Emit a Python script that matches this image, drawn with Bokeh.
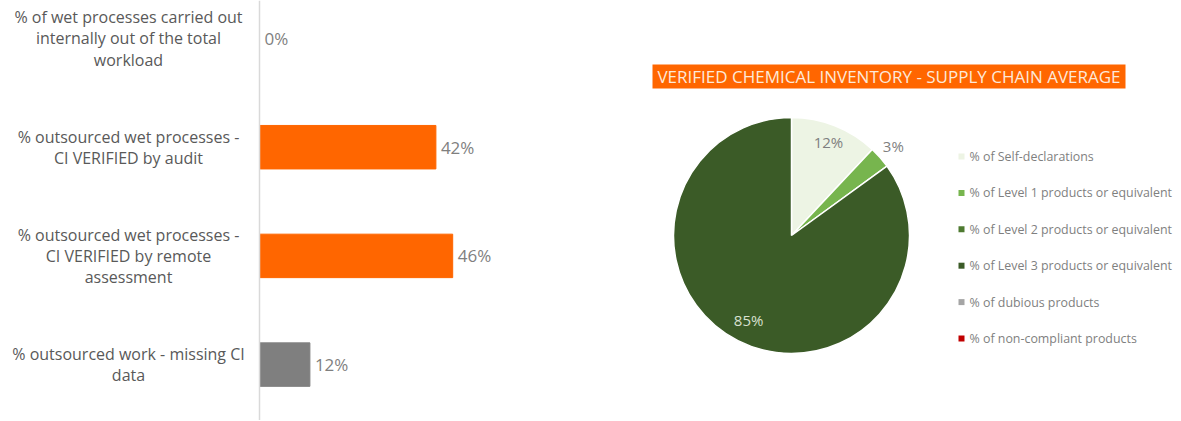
import math
from bokeh.plotting import figure
from bokeh.layouts import row
from bokeh.models import Range1d, Span, ColumnDataSource
from bokeh.core.properties import value
from bokeh.embed import file_html
from bokeh.resources import INLINE

# ---------------- data ----------------
bar_categories = [
    "% of wet processes carried out\ninternally out of the total\nworkload",
    "% outsourced wet processes -\nCI VERIFIED by audit",
    "% outsourced wet processes -\nCI VERIFIED by remote\nassessment",
    "% outsourced work - missing CI\ndata",
]
bar_values = [0, 42, 46, 12]
bar_colors = ["#FF6600", "#FF6600", "#FF6600", "#7F7F7F"]

pie_title = "VERIFIED CHEMICAL INVENTORY - SUPPLY CHAIN AVERAGE"
pie_names = [
    "% of Self-declarations",
    "% of Level 1 products or equivalent",
    "% of Level 2 products or equivalent",
    "% of Level 3 products or equivalent",
    "% of dubious products",
    "% of non-compliant products",
]
pie_values = [12, 3, 0, 85, 0, 0]
pie_colors = ["#EDF4E4", "#77B54E", "#4E7A30", "#3B5B27", "#A5A5A5", "#C00000"]
pie_label_colors = ["#7F7F7F", "#7F7F7F", "#7F7F7F", "#D8E0CF", "#7F7F7F", "#7F7F7F"]
pie_label_radius = [0.85, 1.15, 0.8, 0.8, 0.8, 0.8]

FONT = "Open Sans"
H = 420

# ---------------- bar chart ----------------
BW = 628
zero_px = 259
px_per = 4.2
row_px = 108.7
first_px = 38

p1 = figure(width=BW, height=H, output_backend="svg", toolbar_location=None,
            x_range=Range1d(-zero_px / px_per, (BW - zero_px) / px_per),
            y_range=Range1d((H - first_px) / row_px, -first_px / row_px),
            min_border=0, outline_line_color=None)
p1.axis.visible = False
p1.grid.visible = False

ys = list(range(len(bar_values)))
label_center = (128 - zero_px) / px_per
src = ColumnDataSource(dict(y=ys, v=bar_values, c=bar_colors, cat=bar_categories,
                            lab=[f"{v}%" for v in bar_values],
                            lx=[label_center] * len(ys)))
p1.hbar(y="y", left=0, right="v", height=0.4, color="c", source=src)
p1.add_layout(Span(location=0, dimension="height", line_color="#D9D9D9", line_width=1.5))
p1.text(x="v", y="y", text="lab", source=src, x_offset=5, text_baseline="middle",
        text_font=value(FONT), text_font_size="17px", text_color="#7F7F7F")
p1.text(x="lx", y="y", text="cat", source=src, text_align="center", text_baseline="middle",
        text_font=value(FONT), text_font_size="16px", text_color="#595959",
        text_line_height=0.97)

# ---------------- pie chart ----------------
PW = 1180 - BW
p2 = figure(width=PW, height=H, output_backend="svg", toolbar_location=None,
            x_range=Range1d(0, PW), y_range=Range1d(0, H),
            min_border=0, outline_line_color=None)
p2.axis.visible = False
p2.grid.visible = False

cx, cy, R = 163, H - 235, 118
total = sum(pie_values)
ws, we, wc = [], [], []
lxs, lys, labs, lcols = [], [], [], []
cum = 0
for i, v in enumerate(pie_values):
    a0 = math.pi / 2 - 2 * math.pi * cum / total
    cum += v
    a1 = math.pi / 2 - 2 * math.pi * cum / total
    if v > 0:
        ws.append(a0)
        we.append(a1)
        wc.append(pie_colors[i])
        mid = (a0 + a1) / 2
        r = R * pie_label_radius[i]
        lxs.append(cx + r * math.cos(mid))
        lys.append(cy + r * math.sin(mid))
        labs.append(f"{v}%")
        lcols.append(pie_label_colors[i])

wsrc = ColumnDataSource(dict(s=ws, e=we, c=wc))
p2.wedge(x=cx, y=cy, radius=R, start_angle="s", end_angle="e", direction="clock",
         fill_color="c", line_color="white", line_width=1.5, source=wsrc)
p2.text(x=lxs, y=lys, text=labs, text_color=lcols, text_align="center",
        text_baseline="middle", text_font=value(FONT), text_font_size="15px")

# title box
tx0, tx1, ty = 24, 497, H - 76
p2.quad(left=tx0, right=tx1, bottom=ty - 12, top=ty + 12, fill_color="#FF6600", line_color=None)
p2.text(x=[(tx0 + tx1) / 2], y=[ty], text=[pie_title], text_align="center",
        text_baseline="middle", text_font=value(FONT), text_font_size="17px",
        text_color="#FDE9D9")

# legend
lg_x, lg_y0, lg_dy = 333, H - 156, 36.4
lg_y = [lg_y0 - i * lg_dy for i in range(len(pie_names))]
p2.scatter(x=[lg_x] * len(pie_names), y=lg_y, marker="square", size=6,
           fill_color=pie_colors, line_color=None)
p2.text(x=[lg_x + 8] * len(pie_names), y=lg_y, text=pie_names, text_baseline="middle",
        text_font=value(FONT), text_font_size="12.4px", text_color="#7F7F7F")

layout = row(p1, p2)
open("out.html", "w").write(file_html(layout, INLINE))
